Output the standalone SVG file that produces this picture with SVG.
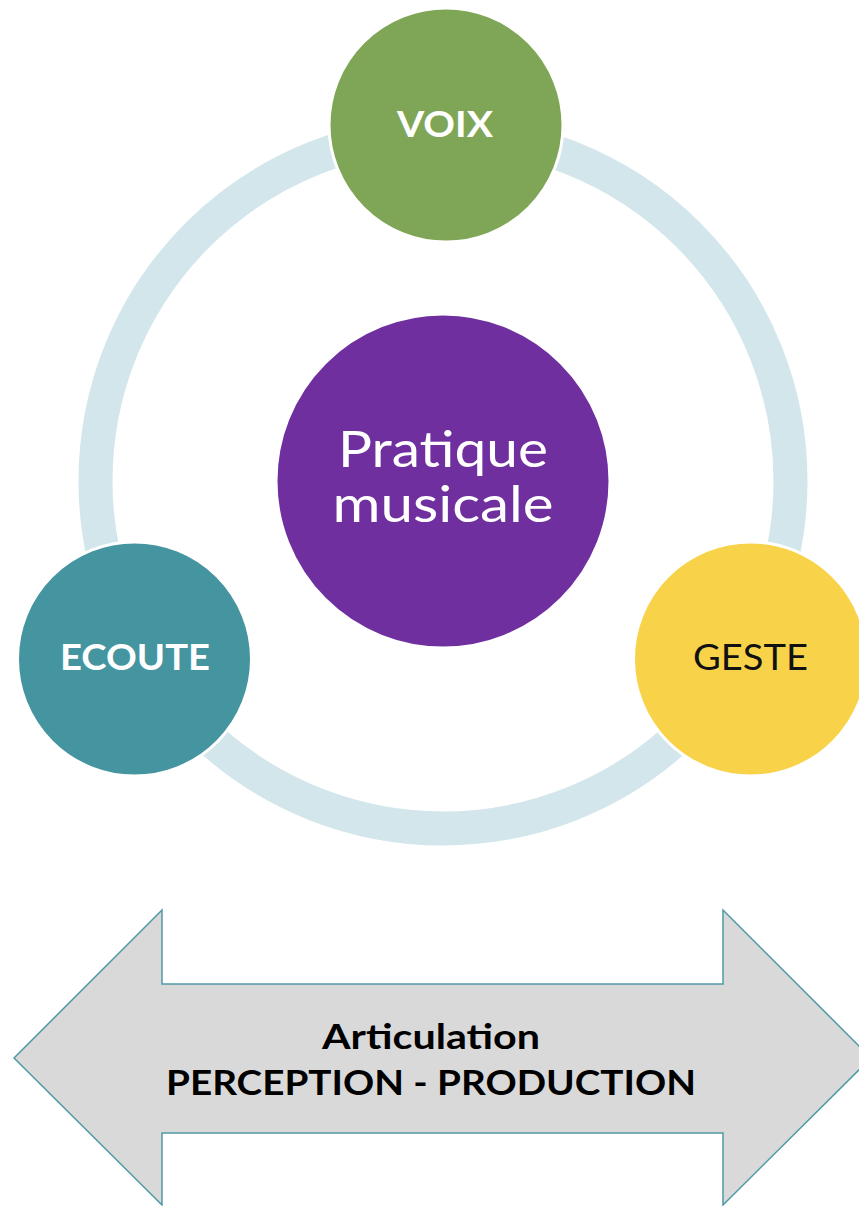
<svg xmlns="http://www.w3.org/2000/svg" width="859" height="1206" viewBox="0 0 859 1206">
<style>
.lbl{font-family:Lato,"Open Sans","Liberation Sans",sans-serif;text-anchor:middle}
.b{font-weight:700}
.node{stroke:#ffffff;stroke-width:3}
</style>
<rect width="859" height="1206" fill="#ffffff"/>
<g id="connectors">
<circle id="ring" cx="443" cy="481" r="347.5" fill="none" stroke="#d2e6eb" stroke-width="34"/>
</g>
<g id="node-center">
<circle class="node" cx="443" cy="481" r="167" fill="#6f2f9f"/>
<text class="lbl" x="443" y="467" font-size="50" fill="#ffffff" textLength="210" lengthAdjust="spacingAndGlyphs">Pratique</text>
<text class="lbl" x="443" y="522" font-size="50" fill="#ffffff" textLength="221" lengthAdjust="spacingAndGlyphs">musicale</text>
</g>
<g id="node-voix">
<circle class="node" cx="446" cy="125" r="117" fill="#7fa656"/>
<text class="lbl b" x="445" y="137" font-size="37" fill="#ffffff" textLength="96" lengthAdjust="spacingAndGlyphs">VOIX</text>
</g>
<g id="node-ecoute">
<circle class="node" cx="134.5" cy="659" r="117" fill="#4495a0"/>
<text class="lbl b" x="135" y="670" font-size="37" fill="#ffffff" textLength="150" lengthAdjust="spacingAndGlyphs">ECOUTE</text>
</g>
<g id="node-geste">
<circle class="node" cx="750.5" cy="659" r="117" fill="#f8d34a"/>
<text class="lbl" x="750.5" y="670" font-size="37" fill="#111111" textLength="115" lengthAdjust="spacingAndGlyphs">GESTE</text>
</g>
<g id="node-arrow">
<polygon points="14,1058 162,910 162,984 723,984 723,910 871,1058 723,1205 723,1133 162,1133 162,1205" fill="#d9d9d9" stroke="#4f9aa5" stroke-width="1.5"/>
<text class="lbl b" x="431" y="1049" font-size="34" fill="#000000" textLength="218" lengthAdjust="spacingAndGlyphs">Articulation</text>
<text class="lbl b" x="431" y="1095" font-size="34" fill="#000000" textLength="530" lengthAdjust="spacingAndGlyphs">PERCEPTION - PRODUCTION</text>
</g>
</svg>
